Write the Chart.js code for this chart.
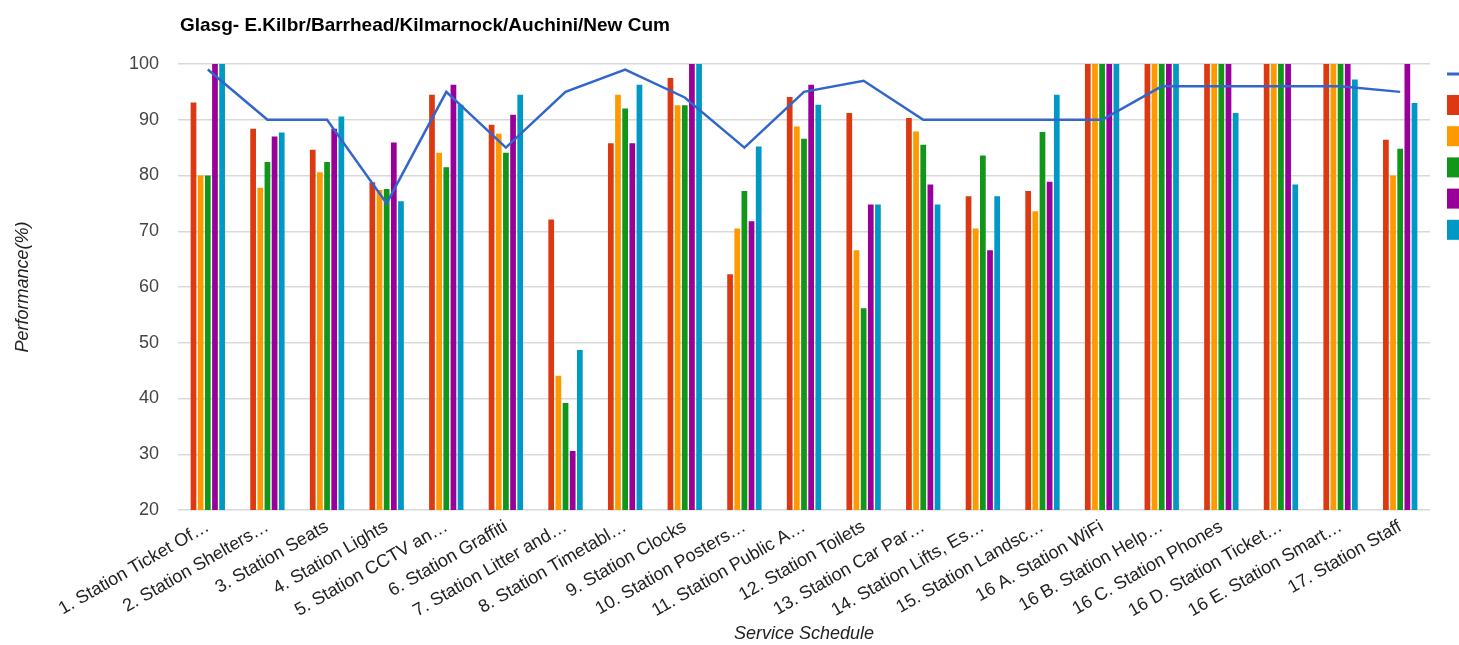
<!DOCTYPE html>
<html>
<head>
<meta charset="utf-8">
<script src="https://cdn.jsdelivr.net/npm/chart.js@4.4.1/dist/chart.umd.min.js"></script>
<style>
  html, body { margin: 0; padding: 0; background: #fff; overflow: hidden; }
  #wrap { position: relative; width: 1459px; height: 645px; }
</style>
</head>
<body>
<div id="wrap"><canvas id="c" width="1459" height="645"></canvas></div>
<script>
// Station service quality scores by schedule item, one bar series per route
const chartTitle = 'Glasg- E.Kilbr/Barrhead/Kilmarnock/Auchini/New Cum';
const xAxisTitle = 'Service Schedule';
const yAxisTitle = 'Performance(%)';

const categories = [
  '1. Station Ticket Of\u2026',
  '2. Station Shelters\u2026',
  '3. Station Seats',
  '4. Station Lights',
  '5. Station CCTV an\u2026',
  '6. Station Graffiti',
  '7. Station Litter and\u2026',
  '8. Station Timetabl\u2026',
  '9. Station Clocks',
  '10. Station Posters\u2026',
  '11. Station Public A\u2026',
  '12. Station Toilets',
  '13. Station Car Par\u2026',
  '14. Station Lifts, Es\u2026',
  '15. Station Landsc\u2026',
  '16 A. Station WiFi',
  '16 B. Station Help\u2026',
  '16 C. Station Phones',
  '16 D. Station Ticket\u2026',
  '16 E. Station Smart\u2026',
  '17. Station Staff'
];

const seriesNames = ['Target', 'E.Kilbr', 'Barrhead', 'Kilmarnock', 'Auchini', 'New Cum'];
const seriesColors = ['#3366cc', '#dc3912', '#ff9900', '#109618', '#990099', '#0099c6'];

const target     = [99, 90, 90, 75, 95, 85, 95, 99, 94, 85, 95, 97, 90, 90, 90, 90, 96, 96, 96, 96, 95];
const eKilbr     = [93.1, 88.4, 84.6, 78.8, 94.5, 89.1, 72.1, 85.8, 97.5, 62.3, 94.1, 91.2, 90.3, 76.3, 77.2, 100, 100, 100, 100, 100, 86.4];
const barrhead   = [80, 77.8, 80.6, 77.4, 84.1, 87.5, 44.1, 94.5, 92.6, 70.5, 88.8, 66.6, 87.9, 70.5, 73.6, 100, 100, 100, 100, 100, 80];
const kilmarnock = [80, 82.4, 82.4, 77.6, 81.5, 84.1, 39.2, 92.0, 92.6, 77.2, 86.6, 56.2, 85.5, 83.6, 87.8, 100, 100, 100, 100, 100, 84.8];
const auchini    = [100, 87.0, 88.4, 85.9, 96.3, 90.9, 30.6, 85.8, 100, 71.8, 96.3, 74.8, 78.4, 66.6, 78.9, 100, 100, 100, 100, 100, 100];
const newCum     = [100, 87.7, 90.6, 75.4, 92.7, 94.5, 48.7, 96.3, 100, 85.2, 92.7, 74.8, 74.8, 76.3, 94.5, 100, 100, 91.2, 78.4, 97.2, 93.0];

const yTicks = [20, 30, 40, 50, 60, 70, 80, 90, 100];

const FONT = '"Liberation Sans", Arial, Helvetica, sans-serif';

const barSeries = [eKilbr, barrhead, kilmarnock, auchini, newCum];

const datasets = [{
  type: 'line',
  label: seriesNames[0],
  data: target,
  borderColor: seriesColors[0],
  backgroundColor: seriesColors[0],
  borderWidth: 2.5,
  pointRadius: 0,
  tension: 0,
  fill: false
}].concat(barSeries.map((vals, i) => ({
  type: 'bar',
  label: seriesNames[i + 1],
  data: vals,
  backgroundColor: seriesColors[i + 1],
  borderWidth: 0,
  categoryPercentage: 0.6,
  barPercentage: 0.8
})));

// Title at top-left and a right-hand key (swatches sit at the canvas edge)
const headerAndKey = {
  id: 'headerAndKey',
  afterDraw(chart) {
    const ctx = chart.ctx;
    ctx.save();
    ctx.fillStyle = '#000';
    ctx.font = 'bold 19px ' + FONT;
    ctx.textAlign = 'left';
    ctx.textBaseline = 'alphabetic';
    ctx.fillText(chartTitle, chart.chartArea.left + 2, 31);

    const keyX = 1447;
    let y = 74;
    ctx.fillStyle = seriesColors[0];
    ctx.fillRect(keyX, y - 1.5, 20, 3);
    ctx.font = '18px ' + FONT;
    ctx.textBaseline = 'middle';
    ctx.fillStyle = '#222';
    ctx.fillText(seriesNames[0], keyX + 28, y);
    y = 105;
    for (let i = 1; i < seriesNames.length; i++) {
      ctx.fillStyle = seriesColors[i];
      ctx.fillRect(keyX, y - 10, 20, 20);
      ctx.fillStyle = '#222';
      ctx.fillText(seriesNames[i], keyX + 28, y);
      y += 31.2;
    }
    ctx.restore();
  }
};

new Chart(document.getElementById('c'), {
  data: { labels: categories, datasets },
  options: {
    responsive: false,
    animation: false,
    layout: { padding: { top: 64, right: 29, left: 0, bottom: 0 } },
    plugins: {
      legend: { display: false },
      title: { display: false },
      tooltip: { enabled: false }
    },
    scales: {
      x: {
        offset: true,
        grid: { display: false, drawTicks: false },
        border: { display: false },
        ticks: {
          autoSkip: false,
          maxRotation: 30,
          minRotation: 30,
          padding: 6,
          color: '#222',
          font: { family: FONT, size: 18 }
        },
        title: {
          display: true,
          text: xAxisTitle,
          color: '#222',
          font: { family: FONT, size: 18, style: 'italic' },
          padding: { top: 0, bottom: 0 }
        },
        afterFit(scale) { scale.height = 135; }
      },
      y: {
        min: 20,
        max: 100,
        afterBuildTicks(scale) { scale.ticks = yTicks.map(v => ({ value: v })); },
        grid: { color: '#d9d9d9', lineWidth: 1.5, drawTicks: false },
        border: { display: false },
        ticks: {
          padding: 19,
          color: '#444',
          font: { family: FONT, size: 18 }
        },
        title: {
          display: true,
          text: yAxisTitle,
          color: '#222',
          font: { family: FONT, size: 18, style: 'italic' },
          padding: { top: 12, bottom: 0 }
        },
        afterFit(scale) { scale.width = 178; }
      }
    }
  },
  plugins: [headerAndKey]
});
</script>
</body>
</html>
